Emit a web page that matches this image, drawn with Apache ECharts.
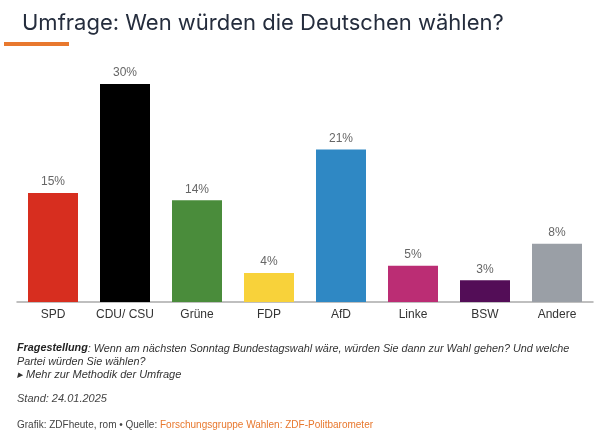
<!DOCTYPE html>
<html>
<head>
<meta charset="utf-8">
<script src="https://cdn.jsdelivr.net/npm/echarts@6/dist/echarts.min.js"></script>
<style>
html,body{margin:0;padding:0;background:#fff;}
#c{width:600px;height:436px;}
</style>
</head>
<body>
<div id="c"></div>
<script>
const categories = ['SPD', 'CDU/ CSU', 'Grüne', 'FDP', 'AfD', 'Linke', 'BSW', 'Andere'];
const values = [15, 30, 14, 4, 21, 5, 3, 8];
const colors = ['#d72e1f', '#000000', '#4a8c3b', '#f8d23a', '#2f88c4', '#bb2d74', '#530d57', '#9a9fa6'];

const chart = echarts.init(document.getElementById('c'), null, {renderer: 'canvas'});
const footFont = '"Liberation Sans", Arial, sans-serif';
chart.setOption({
  backgroundColor: '#fff',
  animation: false,
  title: {
    text: 'Umfrage: Wen würden die Deutschen wählen?',
    left: 17, top: 7,
    textStyle: {fontFamily: '"Inter", sans-serif', fontSize: 22, fontWeight: 'normal', color: '#252d3d'}
  },
  grid: {left: 17, right: 7, top: 84, bottom: 134},
  xAxis: {
    type: 'category',
    data: categories,
    axisLine: {lineStyle: {color: '#aaaaaa', width: 1.5}},
    axisTick: {show: false},
    axisLabel: {interval: 0, color: '#333', fontSize: 12, fontFamily: '"Liberation Sans", Arial, sans-serif', margin: 7}
  },
  yAxis: {
    type: 'value', min: 0, max: 30,
    show: false, splitLine: {show: false}
  },
  series: [{
    type: 'bar',
    barWidth: 50,
    data: values.map((v, i) => ({value: v, itemStyle: {color: colors[i]}})),
    label: {
      show: true, position: 'top', distance: 5,
      formatter: '{c}%',
      color: '#666', fontSize: 12, fontFamily: '"Liberation Sans", Arial, sans-serif'
    }
  }],
  graphic: [
    {type: 'rect', shape: {x: 4, y: 42, width: 65, height: 4}, style: {fill: '#e8782e'}},
    {type: 'text', left: 17, top: 343, style: {
      text: '{b|Fragestellung}: Wenn am nächsten Sonntag Bundestagswahl wäre, würden Sie dann zur Wahl gehen? Und welche',
      font: 'italic 10.8px ' + footFont, fill: '#333',
      rich: {b: {font: 'italic bold 10.8px ' + footFont, fill: '#222'}}
    }},
    {type: 'text', left: 17, top: 356, style: {
      text: 'Partei würden Sie wählen?', font: 'italic 10.8px ' + footFont, fill: '#333'
    }},
    {type: 'text', left: 17, top: 369, style: {
      text: '▸ Mehr zur Methodik der Umfrage', font: 'italic 11px ' + footFont, fill: '#333'
    }},
    {type: 'text', left: 17, top: 393, style: {
      text: 'Stand: 24.01.2025', font: 'italic 11px ' + footFont, fill: '#444'
    }},
    {type: 'text', left: 17, top: 420, style: {
      text: 'Grafik: ZDFheute, rom • Quelle: {o|Forschungsgruppe Wahlen: ZDF-Politbarometer}',
      font: '10px ' + footFont, fill: '#444',
      rich: {o: {font: '10px ' + footFont, fill: '#e8782e'}}
    }}
  ]
});
</script>
</body>
</html>
